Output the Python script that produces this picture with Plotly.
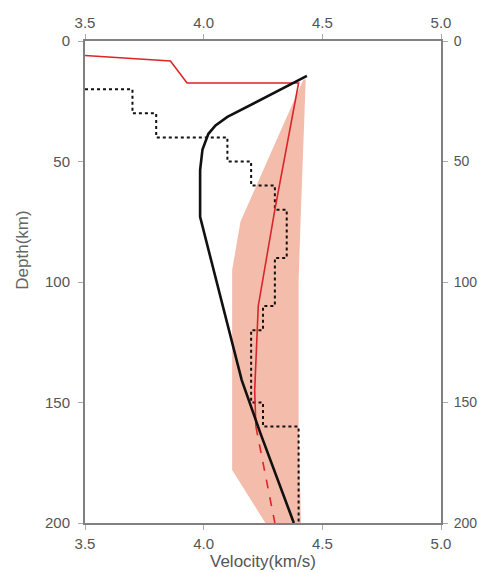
import plotly.graph_objects as go

# ---- data ----
band_left_v = [4.42, 4.155, 4.12, 4.12, 4.26]
band_left_d = [16, 75, 95, 178, 200]
band_right_v = [4.43, 4.41, 4.40, 4.40, 4.41]
band_right_d = [16, 70, 100, 160, 200]

step_v = [3.5, 3.70, 3.70, 3.80, 3.80, 4.10, 4.10, 4.20, 4.20, 4.30, 4.30, 4.35, 4.35,
          4.30, 4.30, 4.25, 4.25, 4.20, 4.20, 4.25, 4.25, 4.40, 4.40]
step_d = [20, 20, 30, 30, 40, 40, 50, 50, 60, 60, 70, 70, 90,
          90, 110, 110, 120, 120, 150, 150, 160, 160, 200]

red_v = [3.5, 3.86, 3.93, 4.40, 4.30, 4.23, 4.215, 4.22]
red_d = [6, 8.3, 17.4, 17.4, 70, 110, 145, 160]
red_dash_v = [4.22, 4.30]
red_dash_d = [160, 200]

black_v = [4.435, 4.10, 4.05, 4.02, 3.995, 3.985, 3.985, 4.16, 4.24, 4.38]
black_d = [14.5, 31.5, 35, 38.5, 45, 53.6, 73, 140.6, 163, 200]

x_range = [3.5, 5.0]
y_range = [200, 0]

fig = go.Figure()

fig.add_trace(go.Scatter(
    x=band_left_v + band_right_v[::-1], y=band_left_d + band_right_d[::-1],
    fill='toself', fillcolor='#f4bdab', line=dict(width=0), mode='lines',
    hoverinfo='skip', showlegend=False))
fig.add_trace(go.Scatter(x=step_v, y=step_d, mode='lines',
                         line=dict(color='#111', width=2, dash='dot'), showlegend=False))
fig.add_trace(go.Scatter(x=red_v, y=red_d, mode='lines',
                         line=dict(color='#d8262a', width=1.6), showlegend=False))
fig.add_trace(go.Scatter(x=red_dash_v, y=red_dash_d, mode='lines',
                         line=dict(color='#d8262a', width=1.6, dash='dash'), showlegend=False))
fig.add_trace(go.Scatter(x=black_v, y=black_d, mode='lines',
                         line=dict(color='#111', width=2.6), showlegend=False))
# invisible trace for secondary axes
fig.add_trace(go.Scatter(x=[3.5], y=[0], xaxis='x2', yaxis='y2', mode='markers',
                         marker=dict(opacity=0), hoverinfo='skip', showlegend=False))

tickfont = dict(family='Liberation Sans, Arial', size=15, color='#555')
axis_common = dict(showline=True, linecolor='#808080', linewidth=2, ticks='outside',
                   ticklen=5, tickcolor='#aaa', showgrid=False, zeroline=False,
                   automargin=False)

fig.update_layout(
    width=478, height=572,
    margin=dict(l=85, r=37, t=41, b=49),
    paper_bgcolor='white', plot_bgcolor='white',
    xaxis=dict(range=x_range, dtick=0.5, tickformat='.1f', side='bottom',
               ticklabelstandoff=1, tickfont=tickfont, **axis_common),
    xaxis2=dict(range=x_range, dtick=0.5, tickformat='.1f', side='top', overlaying='x',
                anchor='y', tickfont=tickfont, **axis_common),
    yaxis=dict(range=y_range, dtick=50, side='left', ticklabelstandoff=5,
               tickfont=tickfont, **axis_common),
    yaxis2=dict(range=y_range, dtick=50, side='right', overlaying='y', anchor='x',
                ticklabelstandoff=3, tickfont=dict(tickfont, size=14), **axis_common),
    annotations=[
        dict(text='Velocity(km/s)', x=0.5, y=0, xref='paper', yref='paper',
             yshift=-38, showarrow=False, yanchor='middle',
             font=dict(family='Liberation Sans, Arial', size=17, color='#555')),
        dict(text='Depth(km)', x=0, y=0.565, xref='paper', yref='paper',
             xshift=-62, showarrow=False, textangle=-90, xanchor='center',
             font=dict(family='Liberation Sans, Arial', size=17, color='#666')),
    ],
)

fig.write_html('out.html', config={'displayModeBar': False},
               post_script="document.body.style.margin='0';document.body.style.overflow='hidden';")
